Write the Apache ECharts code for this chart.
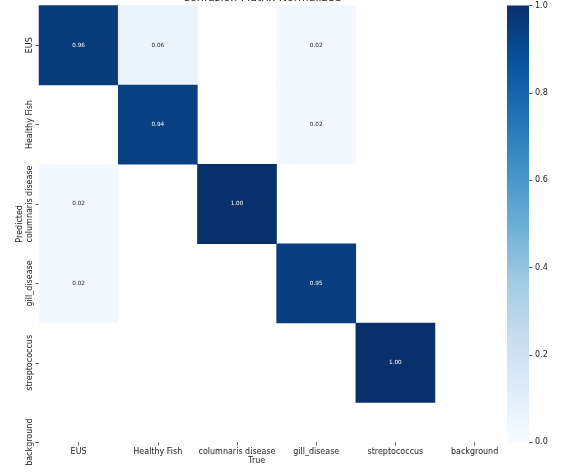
<!DOCTYPE html>
<html>
<head>
<meta charset="utf-8">
<script src="https://cdn.jsdelivr.net/npm/echarts@6/dist/echarts.min.js"></script>
<style>
html,body{margin:0;padding:0;background:#fff;}
#c{width:568px;height:475px;}
</style>
</head>
<body>
<div id="c"></div>
<script>
const categories = ['EUS', 'Healthy Fish', 'columnaris disease', 'gill_disease', 'streptococcus', 'background'];
// rows = Predicted, columns = True
const matrix = [
  [0.96, 0.06, 0, 0.02, 0, 0],
  [0, 0.94, 0, 0.02, 0, 0],
  [0.02, 0, 1.00, 0, 0, 0],
  [0.02, 0, 0, 0.95, 0, 0],
  [0, 0, 0, 0, 1.00, 0],
  [0, 0, 0, 0, 0, 0]
];
const colorbarTicks = [0.0, 0.2, 0.4, 0.6, 0.8, 1.0];
const blues = ['#f7fbff', '#deebf7', '#c6dbef', '#9ecae1', '#6baed6', '#4292c6', '#2171b5', '#08519c', '#08306b'];

const FONT = 'DejaVu Sans';
const heatData = [];
matrix.forEach((row, r) => {
  row.forEach((v, c) => {
    if (v >= 0.005) {
      heatData.push({
        value: [c, r, v],
        label: { color: v > 0.5 ? '#ffffff' : '#262626' }
      });
    }
  });
});

const cellW = 79.2, cellH = 79.4;
const gLeft = 39, gTop = 5.5;
const gridW = cellW * categories.length;
const gridH = cellH * categories.length;
const visH = cellH * (categories.length - 0.5);

const chart = echarts.init(document.getElementById('c'), null, { renderer: 'canvas' });
chart.setOption({
  animation: false,
  backgroundColor: '#ffffff',
  textStyle: { fontFamily: FONT },
  title: {
    text: 'Confusion Matrix Normalized',
    left: gLeft + cellW * 2.75,
    textAlign: 'center',
    top: -12.5,
    textStyle: { fontFamily: FONT, fontSize: 11, fontWeight: 'normal', color: '#222' }
  },
  grid: [
    { left: gLeft, top: gTop, width: gridW, height: gridH, outerBoundsMode: 'none', containLabel: false },
    { left: 507, top: gTop, width: 22, height: visH, outerBoundsMode: 'none', containLabel: false }
  ],
  xAxis: [
    {
      gridIndex: 0,
      type: 'category',
      data: categories,
      position: 'bottom',
      offset: -(gridH - visH),
      axisLine: { show: false },
      axisTick: { show: true, alignWithLabel: true, length: 3.5, lineStyle: { color: '#444', width: 0.8 } },
      axisLabel: { interval: 0, margin: 5.5, fontSize: 8, color: '#222', fontFamily: FONT },
      splitLine: { show: false },
      name: 'True',
      nameLocation: 'middle',
      nameGap: 15,
      nameMoveOverlap: false,
      nameTextStyle: { fontSize: 8, color: '#222', fontFamily: FONT, padding: [0, gridW - cellW * 5.5, 0, 0] }
    },
    {
      gridIndex: 1,
      type: 'category',
      data: ['cb'],
      show: false
    }
  ],
  yAxis: [
    {
      gridIndex: 0,
      type: 'category',
      data: categories,
      inverse: true,
      axisLine: { show: false },
      axisTick: { show: true, alignWithLabel: true, length: 3.5, lineStyle: { color: '#444', width: 0.8 } },
      axisLabel: { interval: 0, rotate: 90, margin: 5, fontSize: 8, color: '#222', fontFamily: FONT },
      splitLine: { show: false },
      name: 'Predicted',
      nameLocation: 'middle',
      nameGap: 15,
      nameMoveOverlap: false,
      nameTextStyle: { fontSize: 8, color: '#222', fontFamily: FONT, padding: [0, 0, 0, gridH - visH] }
    },
    {
      gridIndex: 1,
      type: 'value',
      min: 0,
      max: 1,
      interval: 0.2,
      position: 'right',
      axisLine: { show: false },
      axisTick: { show: true, length: 3.5, lineStyle: { color: '#444', width: 0.8 } },
      axisLabel: { margin: 6, fontSize: 8, color: '#222', fontFamily: FONT, formatter: v => v.toFixed(1) },
      splitLine: { show: false }
    }
  ],
  visualMap: {
    show: false,
    type: 'continuous',
    seriesIndex: 0,
    min: 0,
    max: 1,
    dimension: 2,
    inRange: { color: blues }
  },
  series: [
    {
      type: 'heatmap',
      xAxisIndex: 0,
      yAxisIndex: 0,
      data: heatData,
      label: {
        show: true,
        fontSize: 5.7,
        fontFamily: FONT,
        formatter: p => p.value[2].toFixed(2)
      },
      itemStyle: { borderWidth: 0 },
      emphasis: { disabled: true }
    },
    {
      type: 'bar',
      xAxisIndex: 1,
      yAxisIndex: 1,
      data: [colorbarTicks[colorbarTicks.length - 1]],
      barWidth: '100%',
      silent: true,
      itemStyle: {
        color: new echarts.graphic.LinearGradient(0, 1, 0, 0,
          blues.map((c, i) => ({ offset: i / (blues.length - 1), color: c })))
      }
    }
  ]
});
</script>
</body>
</html>
